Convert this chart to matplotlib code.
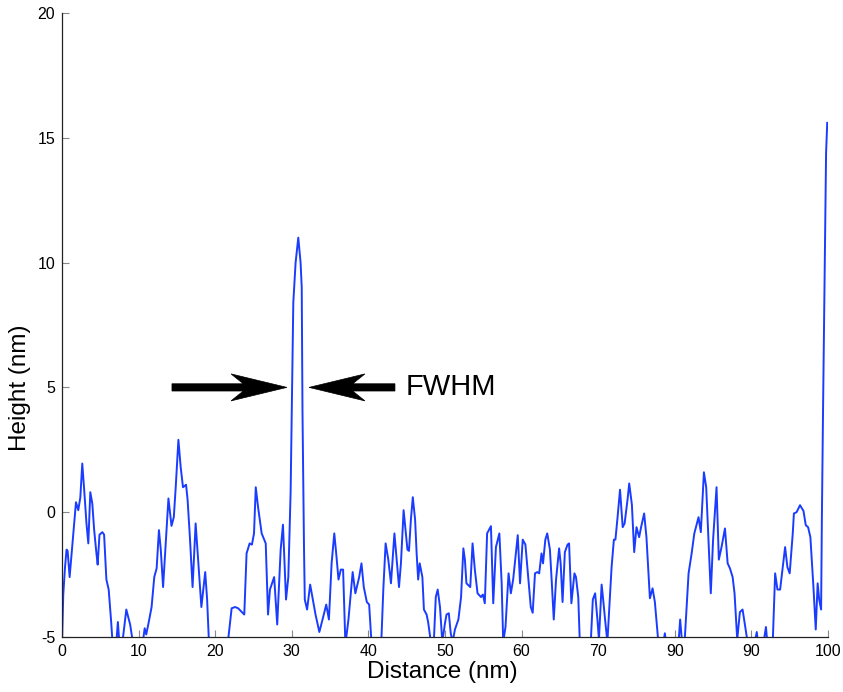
import matplotlib
matplotlib.use("Agg")
import matplotlib.pyplot as plt
from matplotlib.patches import Polygon

plt.rcParams['font.family'] = ['Liberation Sans', 'DejaVu Sans']
plt.rcParams['axes.unicode_minus'] = False

# Height profile along the scan line
distance = [
    0.0, 0.17, 0.4, 0.6, 0.74, 1.0, 1.48, 1.83, 2.13, 2.4, 2.65, 2.9, 3.2, 3.44, 3.7, 3.96,
    4.2, 4.5, 4.66, 4.9, 5.27, 5.5, 5.8, 6.1, 6.4, 6.6, 7.0, 7.3, 7.55, 7.9, 8.4, 8.9,
    9.3, 10.0, 10.6, 10.8, 11.0, 11.3, 11.7, 12.05, 12.36, 12.66, 12.9, 13.2, 13.9, 14.3,
    14.6, 14.85, 15.2, 15.5, 15.8, 16.2, 16.4, 16.7, 17.05, 17.45, 17.75, 18.2, 18.7, 18.95,
    19.2, 20.0, 21.0, 21.7, 22.15, 22.6, 23.0, 23.8, 24.1, 24.5, 24.8, 25.07, 25.3, 25.6,
    26.07, 26.6, 26.9, 27.15, 27.7, 28.1, 28.55, 28.85, 29.25, 29.55, 29.85, 30.0, 30.2,
    30.5, 30.85, 31.15, 31.3, 31.4, 31.6, 31.7, 32.0, 32.4, 32.8, 33.1, 33.6, 34.1, 34.5,
    34.85, 35.2, 35.55, 35.8, 36.1, 36.4, 36.7, 37.0, 37.4, 37.95, 38.3, 38.8, 39.1, 39.4,
    39.8, 40.1, 40.4, 41.0, 41.7, 41.95, 42.25, 42.6, 42.95, 43.4, 43.7, 44.0, 44.25, 44.6,
    44.85, 45.1, 45.3, 45.55, 45.8, 46.1, 46.3, 46.5, 46.7, 47.05, 47.25, 47.6, 47.8, 48.2,
    48.5, 48.8, 49.05, 49.35, 49.65, 50.0, 50.2, 50.5, 50.75, 51.0, 51.3, 51.75, 52.1, 52.4,
    52.6, 52.8, 53.3, 53.6, 53.9, 54.25, 54.7, 54.95, 55.2, 55.5, 56.0, 56.3, 56.65, 57.1,
    57.4, 57.6, 57.9, 58.3, 58.6, 58.9, 59.5, 59.8, 60.15, 60.5, 60.9, 61.2, 61.45, 61.75,
    62.05, 62.3, 62.6, 62.8, 63.1, 63.35, 63.7, 63.95, 64.2, 64.5, 64.9, 65.1, 65.35, 65.65,
    66.0, 66.2, 66.5, 66.9, 67.1, 67.4, 67.6, 68.3, 69.05, 69.3, 69.6, 69.9, 70.1, 70.45,
    70.65, 70.9, 71.2, 71.75, 72.05, 72.25, 72.5, 72.85, 73.2, 73.45, 73.85, 74.05, 74.4,
    74.7, 75.0, 75.35, 75.6, 76.0, 76.3, 76.75, 77.1, 77.4, 77.85, 78.4, 78.7, 79.0, 80.0,
    80.5, 80.7, 81.0, 81.3, 81.8, 82.2, 82.55, 83.1, 83.4, 83.8, 84.1, 84.5, 84.7, 85.0,
    85.45, 85.75, 86.1, 86.55, 86.9, 87.2, 87.55, 87.8, 88.15, 88.5, 88.85, 89.1, 89.5,
    90.2, 90.7, 90.9, 91.6, 91.9, 92.1, 92.8, 93.1, 93.4, 93.75, 94.1, 94.4, 94.7, 95.0,
    95.4, 95.55, 95.9, 96.35, 96.8, 97.1, 97.4, 97.7, 98.1, 98.4, 98.65, 98.85, 99.1, 99.2,
    99.35, 99.75, 99.9,
]
height = [
    -5.3, -3.3, -2.2, -1.5, -1.55, -2.6, -0.85, 0.4, 0.08, 0.6, 1.95, 0.9, -0.45, -1.25, 0.8, 0.35,
    -0.7, -1.65, -2.1, -0.9, -0.8, -0.9, -2.7, -3.1, -4.3, -5.2, -5.6, -4.4, -5.5, -5.2, -3.9, -4.5,
    -5.3, -5.8, -5.1, -4.65, -4.9, -4.45, -3.8, -2.6, -2.25, -0.72, -1.5, -3.0, 0.55, -0.55,
    -0.2, 1.0, 2.9, 1.8, 1.0, 1.1, 0.5, -1.0, -3.0, -0.45, -1.8, -3.8, -2.4, -3.5,
    -5.3, -6.5, -6.2, -5.1, -3.85, -3.8, -3.85, -4.1, -1.65, -1.25, -1.3, -0.85, 1.0, 0.2,
    -0.85, -1.25, -4.1, -3.1, -2.6, -4.5, -1.5, -0.5, -3.5, -2.6, 0.8, 4.0, 8.4,
    10.0, 11.0, 10.0, 9.0, 4.0, -1.5, -3.5, -3.9, -2.9, -3.6, -4.1, -4.8, -4.2, -3.7,
    -4.3, -2.05, -0.85, -1.65, -2.7, -2.3, -2.3, -5.3, -4.3, -2.4, -3.25, -2.6, -2.05, -3.0,
    -3.6, -3.7, -5.2, -5.6, -5.1, -3.1, -1.25, -1.9, -2.85, -0.85, -1.9, -3.0, -2.05, 0.08,
    -0.72, -1.5, -1.55, -0.3, 0.6, -0.3, -1.65, -2.7, -2.05, -2.6, -3.9, -4.1, -4.4, -5.3,
    -5.5, -3.4, -3.1, -3.8, -5.2, -4.45, -4.1, -4.05, -4.85, -5.2, -4.7, -4.3, -3.4, -1.45,
    -1.9, -2.85, -3.0, -1.25, -2.3, -3.25, -3.4, -3.3, -3.65, -0.85, -0.56, -3.65, -1.4, -0.85,
    -2.85, -5.2, -4.6, -2.45, -3.25, -2.7, -0.92, -2.85, -1.1, -1.3, -2.7, -3.8, -4.03, -2.45,
    -2.4, -2.45, -1.65, -2.05, -1.1, -0.85, -1.5, -2.85, -4.3, -2.7, -1.45, -2.05, -3.6, -1.6,
    -1.3, -1.25, -3.65, -2.45, -2.6, -3.4, -5.2, -6.0, -5.1, -3.5, -3.25, -4.3, -5.1, -2.9,
    -3.5, -4.3, -5.2, -2.2, -1.1, -1.1, -0.3, 0.9, -0.6, -0.45, 0.55, 1.15, 0.3,
    -1.6, -0.6, -1.0, -0.6, -0.05, -1.0, -3.45, -3.05, -3.6, -5.2, -5.5, -4.85, -5.5, -6.0,
    -5.2, -4.3, -5.4, -5.1, -2.45, -1.65, -0.85, -0.2, -0.8, 1.6, 1.0, -1.9, -3.25, -1.1,
    1.0, -1.9, -1.4, -0.65, -2.05, -2.25, -2.6, -3.25, -5.1, -4.0, -3.9, -4.4, -5.2,
    -5.6, -4.8, -5.3, -5.2, -4.6, -5.3, -5.1, -2.45, -3.1, -3.1, -2.2, -1.4, -2.2, -2.45,
    -0.85, -0.05, 0.0, 0.28, 0.05, -0.52, -0.6, -1.0, -3.0, -4.7, -2.85, -3.5, -3.9, -0.3,
    4.0, 14.4, 15.6,
]

x_ticks = [0, 10, 20, 30, 40, 50, 60, 70, 80, 90, 100]
x_tick_labels = ['0', '10', '20', '30', '40', '50', '60', '70', '90', '90', '100']
y_ticks = [-5, 0, 5, 10, 15, 20]

# FWHM marker: arrows pointing at the peak flanks at half maximum
fwhm_level = 5.0
left_arrow = (14.36, 29.37)   # tail, tip
right_arrow = (43.47, 32.25)  # tail, tip
fwhm_text_x = 44.8

fig = plt.figure(figsize=(8.43, 6.92), dpi=100)
ax = fig.add_axes([0.0735, 0.0795, 0.9087, 0.9017])

ax.plot(distance, height, color='#1a3cff', linewidth=1.4, clip_on=True)

ax.set_xlim(0, 100)
ax.set_ylim(-5, 20)
ax.set_xticks(x_ticks)
ax.set_xticklabels(x_tick_labels)
ax.set_yticks(y_ticks)

for side in ('top', 'right'):
    ax.spines[side].set_visible(False)
for side in ('left', 'bottom'):
    ax.spines[side].set_color('#222222')
    ax.spines[side].set_linewidth(0.9)

ax.tick_params(direction='in', length=5, width=0.8, color='#888888',
               labelsize=11.5, labelcolor='black', pad=5)

ax.set_xlabel('Distance (nm)', fontsize=17.5)
ax.set_ylabel('Height (nm)', fontsize=17.5)
ax.xaxis.set_label_coords(0.496, -0.038)
ax.yaxis.set_label_coords(-0.040, 0.40)


def arrow_patch(tail, tip, y):
    """Filled arrow with a swept-back head, built in data units."""
    d = 1 if tip > tail else -1
    head_len, notch = 7.3, 5.7
    head_half, shaft_half = 0.54, 0.145
    pts = [
        (tail, y + shaft_half),
        (tip - d * notch, y + shaft_half),
        (tip - d * head_len, y + head_half),
        (tip, y),
        (tip - d * head_len, y - head_half),
        (tip - d * notch, y - shaft_half),
        (tail, y - shaft_half),
    ]
    return Polygon(pts, closed=True, facecolor='black', edgecolor='black',
                   linewidth=0.5, zorder=3)


ax.add_patch(arrow_patch(left_arrow[0], left_arrow[1], fwhm_level))
ax.add_patch(arrow_patch(right_arrow[0], right_arrow[1], fwhm_level))
ax.text(fwhm_text_x, fwhm_level, 'FWHM', fontsize=21, va='center', ha='left')

fig.savefig('out.png', dpi=100)
